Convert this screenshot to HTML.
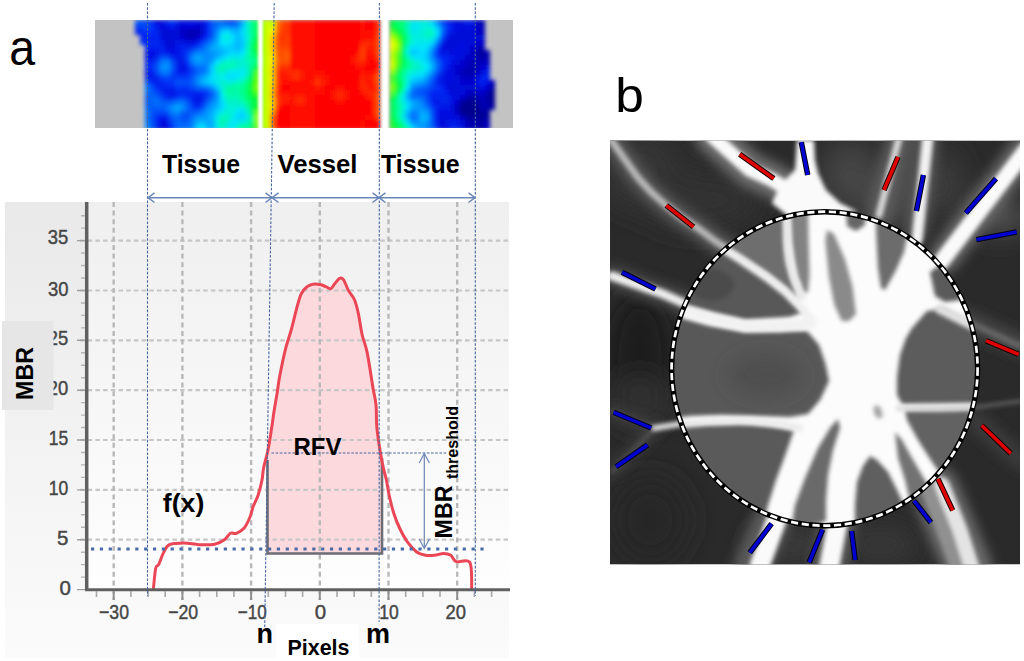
<!DOCTYPE html>
<html><head><meta charset="utf-8">
<style>
html,body{margin:0;padding:0;background:#fff;}
body{width:1024px;height:661px;overflow:hidden;}
svg{display:block;font-family:"Liberation Sans",sans-serif;}
</style></head>
<body>
<svg width="1024" height="661" viewBox="0 0 1024 661">
<defs>
  <filter id="hb" x="-10%" y="-10%" width="120%" height="120%"><feGaussianBlur stdDeviation="2"/></filter>
  <filter id="wb" x="-50%" y="-10%" width="200%" height="120%"><feGaussianBlur stdDeviation="0.9"/></filter>
  
  <linearGradient id="panelbg" x1="0" y1="0" x2="0" y2="1">
    <stop offset="0" stop-color="#e9e9e9"/><stop offset="1" stop-color="#fbfbfb"/>
  </linearGradient>
  <linearGradient id="plotbg" x1="0" y1="0" x2="0" y2="1">
    <stop offset="0" stop-color="#efefef"/><stop offset="1" stop-color="#fefefe"/>
  </linearGradient>

  <clipPath id="stripclip"><rect x="95" y="20" width="418" height="108"/></clipPath>
  <clipPath id="fillclip"><rect x="266.5" y="200" width="116.5" height="354"/></clipPath>
  <filter id="haze" x="-50%" y="-50%" width="200%" height="200%"><feGaussianBlur stdDeviation="14"/></filter>
  <filter id="vb" x="-10%" y="-10%" width="120%" height="120%"><feGaussianBlur stdDeviation="2"/></filter>
  <filter id="haze2" x="-50%" y="-50%" width="200%" height="200%"><feGaussianBlur stdDeviation="9"/></filter>
  <filter id="glow" x="-50%" y="-50%" width="200%" height="200%"><feGaussianBlur stdDeviation="6"/></filter>
  <filter id="rb" x="-10%" y="-10%" width="120%" height="120%"><feGaussianBlur stdDeviation="2.2"/></filter>
  
  <clipPath id="discclip"><ellipse cx="824.6" cy="368.7" rx="153" ry="157"/></clipPath>
  <clipPath id="bclip"><rect x="610" y="140.5" width="410" height="424"/></clipPath>
</defs>

<!-- ===== label a ===== -->
<text transform="translate(9.2,64.8) scale(0.94,1)" font-size="49.5" fill="#000">a</text>

<!-- ===== heat strip ===== -->
<g clip-path="url(#stripclip)">
  <rect x="95" y="20" width="418" height="108" fill="#c3c3c3"/>
  <g filter="url(#hb)">
<path fill="#0050f8" d="M135 20h5v5h-5zM140 20h5v5h-5zM210 30h5v5h-5zM160 55h5v5h-5zM170 60h5v5h-5zM175 80h5v5h-5zM180 80h5v5h-5zM185 80h5v5h-5zM420 90h5v5h-5zM425 100h5v5h-5zM150 110h5v5h-5zM150 115h5v5h-5zM185 115h5v5h-5zM430 115h5v5h-5zM150 120h5v5h-5zM430 120h5v5h-5z"/>
<path fill="#0040f8" d="M145 20h5v5h-5zM230 20h5v5h-5zM140 25h5v5h-5zM440 35h5v5h-5zM195 45h5v5h-5zM435 45h5v5h-5zM185 55h5v5h-5zM435 55h5v5h-5zM190 70h5v5h-5zM160 75h5v5h-5zM430 85h5v5h-5zM155 90h5v5h-5zM425 90h5v5h-5zM160 95h5v5h-5zM180 95h5v5h-5zM205 95h5v5h-5zM425 95h5v5h-5zM190 105h5v5h-5zM160 110h5v5h-5z"/>
<path fill="#0020f0" d="M150 20h5v5h-5zM165 20h5v5h-5zM205 25h5v5h-5zM135 30h5v5h-5zM205 30h5v5h-5zM140 35h5v5h-5zM145 35h5v5h-5zM150 35h5v5h-5zM155 35h5v5h-5zM150 45h5v5h-5zM155 45h5v5h-5zM180 45h5v5h-5zM160 50h5v5h-5zM180 50h5v5h-5zM440 55h5v5h-5zM445 55h5v5h-5zM445 60h5v5h-5zM175 65h5v5h-5zM150 70h5v5h-5zM175 70h5v5h-5zM185 70h5v5h-5zM480 75h5v5h-5zM485 75h5v5h-5zM480 80h5v5h-5zM160 85h5v5h-5zM165 85h5v5h-5zM440 85h5v5h-5zM175 90h5v5h-5zM170 95h5v5h-5zM190 95h5v5h-5zM430 95h5v5h-5zM440 95h5v5h-5zM430 100h5v5h-5zM155 120h5v5h-5zM435 125h5v5h-5zM450 125h5v5h-5z"/>
<path fill="#0010e0" d="M155 20h5v5h-5zM180 20h5v5h-5zM195 20h5v5h-5zM200 20h5v5h-5zM460 20h5v5h-5zM165 25h5v5h-5zM455 25h5v5h-5zM465 25h5v5h-5zM160 35h5v5h-5zM200 35h5v5h-5zM460 40h5v5h-5zM440 45h5v5h-5zM455 45h5v5h-5zM460 45h5v5h-5zM150 50h5v5h-5zM170 50h5v5h-5zM450 50h5v5h-5zM455 50h5v5h-5zM460 50h5v5h-5zM150 55h5v5h-5zM455 55h5v5h-5zM450 60h5v5h-5zM180 65h5v5h-5zM445 70h5v5h-5zM480 70h5v5h-5zM445 75h5v5h-5zM450 75h5v5h-5zM475 80h5v5h-5zM485 80h5v5h-5zM445 85h5v5h-5zM480 85h5v5h-5zM450 95h5v5h-5zM450 100h5v5h-5zM440 110h5v5h-5zM445 110h5v5h-5zM445 115h5v5h-5zM450 115h5v5h-5zM165 125h5v5h-5zM445 125h5v5h-5z"/>
<path fill="#0010d8" d="M160 20h5v5h-5zM455 20h5v5h-5zM160 25h5v5h-5zM175 25h5v5h-5zM460 25h5v5h-5zM470 25h5v5h-5zM160 30h5v5h-5zM455 30h5v5h-5zM450 35h5v5h-5zM470 35h5v5h-5zM165 40h5v5h-5zM170 40h5v5h-5zM455 40h5v5h-5zM465 40h5v5h-5zM165 45h5v5h-5zM170 45h5v5h-5zM445 45h5v5h-5zM450 45h5v5h-5zM465 45h5v5h-5zM445 80h5v5h-5zM475 85h5v5h-5zM455 90h5v5h-5zM460 90h5v5h-5zM450 105h5v5h-5zM440 115h5v5h-5zM160 120h5v5h-5zM440 120h5v5h-5z"/>
<path fill="#0038f8" d="M170 20h5v5h-5zM200 40h5v5h-5zM185 50h5v5h-5zM170 75h5v5h-5zM175 75h5v5h-5zM180 75h5v5h-5zM185 75h5v5h-5zM170 80h5v5h-5zM175 85h5v5h-5zM180 85h5v5h-5zM185 85h5v5h-5zM205 90h5v5h-5zM430 105h5v5h-5z"/>
<path fill="#0020e8" d="M175 20h5v5h-5zM465 20h5v5h-5zM155 30h5v5h-5zM440 40h5v5h-5zM160 45h5v5h-5zM185 45h5v5h-5zM180 55h5v5h-5zM175 60h5v5h-5zM185 65h5v5h-5zM440 70h5v5h-5zM485 70h5v5h-5zM145 75h5v5h-5zM155 80h5v5h-5zM200 95h5v5h-5zM435 95h5v5h-5zM445 95h5v5h-5zM440 100h5v5h-5zM445 100h5v5h-5zM435 105h5v5h-5zM450 120h5v5h-5zM155 125h5v5h-5zM455 125h5v5h-5z"/>
<path fill="#0018e8" d="M185 20h5v5h-5zM190 20h5v5h-5zM155 25h5v5h-5zM170 25h5v5h-5zM450 25h5v5h-5zM160 40h5v5h-5zM195 40h5v5h-5zM175 45h5v5h-5zM145 50h5v5h-5zM155 50h5v5h-5zM165 50h5v5h-5zM175 50h5v5h-5zM145 55h5v5h-5zM175 55h5v5h-5zM450 55h5v5h-5zM445 65h5v5h-5zM145 70h5v5h-5zM180 70h5v5h-5zM150 75h5v5h-5zM165 90h5v5h-5zM445 90h5v5h-5zM195 95h5v5h-5zM435 100h5v5h-5zM440 105h5v5h-5zM445 105h5v5h-5zM435 110h5v5h-5zM160 115h5v5h-5zM435 115h5v5h-5zM165 120h5v5h-5zM435 120h5v5h-5zM455 120h5v5h-5z"/>
<path fill="#0028f8" d="M205 20h5v5h-5zM150 30h5v5h-5zM145 45h5v5h-5zM435 50h5v5h-5zM145 60h5v5h-5zM145 65h5v5h-5zM155 85h5v5h-5zM435 90h5v5h-5zM195 105h5v5h-5zM155 115h5v5h-5z"/>
<path fill="#0058f8" d="M210 20h5v5h-5zM210 25h5v5h-5zM155 65h5v5h-5zM170 65h5v5h-5zM190 75h5v5h-5zM425 85h5v5h-5zM150 90h5v5h-5zM415 90h5v5h-5zM145 95h5v5h-5zM145 100h5v5h-5zM165 100h5v5h-5zM185 100h5v5h-5zM150 105h5v5h-5zM165 110h5v5h-5zM185 110h5v5h-5zM190 110h5v5h-5zM170 115h5v5h-5zM150 125h5v5h-5z"/>
<path fill="#0068f8" d="M215 20h5v5h-5zM440 25h5v5h-5zM435 60h5v5h-5zM410 90h5v5h-5zM150 95h5v5h-5zM210 95h5v5h-5zM420 95h5v5h-5zM150 100h5v5h-5zM180 110h5v5h-5zM175 115h5v5h-5z"/>
<path fill="#0060f8" d="M220 20h5v5h-5zM235 20h5v5h-5zM210 35h5v5h-5zM205 40h5v5h-5zM200 45h5v5h-5zM190 50h5v5h-5zM195 70h5v5h-5zM430 75h5v5h-5zM190 80h5v5h-5zM195 85h5v5h-5zM210 90h5v5h-5zM155 95h5v5h-5zM160 100h5v5h-5zM170 100h5v5h-5zM205 100h5v5h-5zM155 105h5v5h-5zM160 105h5v5h-5zM195 110h5v5h-5zM180 120h5v5h-5zM185 120h5v5h-5zM430 125h5v5h-5z"/>
<path fill="#0048f8" d="M225 20h5v5h-5zM440 20h5v5h-5zM145 25h5v5h-5zM165 55h5v5h-5zM155 60h5v5h-5zM190 65h5v5h-5zM155 70h5v5h-5zM170 70h5v5h-5zM435 70h5v5h-5zM165 75h5v5h-5zM145 80h5v5h-5zM430 80h5v5h-5zM150 85h5v5h-5zM190 85h5v5h-5zM200 105h5v5h-5zM155 110h5v5h-5zM430 110h5v5h-5zM180 115h5v5h-5zM170 120h5v5h-5z"/>
<path fill="#00a8ff" d="M240 20h5v5h-5zM210 45h5v5h-5zM195 55h5v5h-5zM415 80h5v5h-5zM405 95h5v5h-5zM215 100h5v5h-5zM410 100h5v5h-5zM175 105h5v5h-5zM410 105h5v5h-5zM420 110h5v5h-5zM405 115h5v5h-5zM425 115h5v5h-5zM205 120h5v5h-5zM420 120h5v5h-5zM415 125h5v5h-5z"/>
<path fill="#00f0d8" d="M245 20h5v5h-5zM425 25h5v5h-5zM420 30h5v5h-5zM225 35h5v5h-5zM245 35h5v5h-5zM410 35h5v5h-5zM420 35h5v5h-5zM430 35h5v5h-5zM405 50h5v5h-5zM415 60h5v5h-5zM215 70h5v5h-5zM405 75h5v5h-5zM225 80h5v5h-5zM405 80h5v5h-5zM400 115h5v5h-5zM240 120h5v5h-5z"/>
<path fill="#00ff80" d="M250 20h5v5h-5zM250 25h5v5h-5zM400 70h5v5h-5z"/>
<path fill="#00ff70" d="M255 20h5v5h-5zM395 20h5v5h-5zM400 25h5v5h-5zM250 40h5v5h-5zM250 50h5v5h-5zM255 55h5v5h-5zM245 95h5v5h-5zM395 120h5v5h-5z"/>
<path fill="#98ff00" d="M260 20h5v5h-5zM260 25h5v5h-5zM260 30h5v5h-5zM260 35h5v5h-5zM260 40h5v5h-5zM260 45h5v5h-5zM395 45h5v5h-5zM260 50h5v5h-5zM260 55h5v5h-5zM260 60h5v5h-5zM260 65h5v5h-5zM260 70h5v5h-5zM260 75h5v5h-5zM260 80h5v5h-5zM260 85h5v5h-5zM260 90h5v5h-5zM260 95h5v5h-5zM260 100h5v5h-5zM260 105h5v5h-5zM260 110h5v5h-5zM255 115h5v5h-5zM260 115h5v5h-5zM260 120h5v5h-5zM260 125h5v5h-5z"/>
<path fill="#d0ff00" d="M265 20h5v5h-5zM265 25h5v5h-5zM265 30h5v5h-5zM265 35h5v5h-5zM265 40h5v5h-5zM265 45h5v5h-5zM265 50h5v5h-5zM265 55h5v5h-5zM265 60h5v5h-5zM390 60h5v5h-5zM265 65h5v5h-5zM265 70h5v5h-5zM265 75h5v5h-5zM265 80h5v5h-5zM265 85h5v5h-5zM265 90h5v5h-5zM265 95h5v5h-5zM265 100h5v5h-5zM265 105h5v5h-5zM265 110h5v5h-5zM265 115h5v5h-5zM265 120h5v5h-5zM265 125h5v5h-5z"/>
<path fill="#b8ff00" d="M270 20h5v5h-5z"/>
<path fill="#ff7800" d="M275 20h5v5h-5z"/>
<path fill="#ff4800" d="M280 20h5v5h-5zM275 35h5v5h-5zM275 40h5v5h-5zM285 45h5v5h-5zM280 60h5v5h-5zM375 80h5v5h-5zM375 100h5v5h-5zM375 105h5v5h-5z"/>
<path fill="#ff4000" d="M285 20h5v5h-5zM280 25h5v5h-5zM285 35h5v5h-5zM285 40h5v5h-5zM375 40h5v5h-5zM280 45h5v5h-5zM375 45h5v5h-5zM360 50h5v5h-5zM375 50h5v5h-5zM360 55h5v5h-5zM375 90h5v5h-5zM275 100h5v5h-5z"/>
<path fill="#ff0800" d="M290 20h5v5h-5zM295 20h5v5h-5zM300 20h5v5h-5zM305 20h5v5h-5zM310 20h5v5h-5zM360 20h5v5h-5zM290 25h5v5h-5zM295 25h5v5h-5zM300 25h5v5h-5zM305 25h5v5h-5zM310 25h5v5h-5zM360 25h5v5h-5zM290 30h5v5h-5zM295 30h5v5h-5zM300 30h5v5h-5zM305 30h5v5h-5zM310 30h5v5h-5zM360 30h5v5h-5zM365 30h5v5h-5zM290 35h5v5h-5zM295 35h5v5h-5zM300 35h5v5h-5zM305 35h5v5h-5zM310 35h5v5h-5zM290 40h5v5h-5zM295 40h5v5h-5zM300 40h5v5h-5zM305 40h5v5h-5zM310 40h5v5h-5zM290 45h5v5h-5zM295 45h5v5h-5zM300 45h5v5h-5zM305 45h5v5h-5zM310 45h5v5h-5zM290 50h5v5h-5zM295 50h5v5h-5zM300 50h5v5h-5zM305 50h5v5h-5zM310 50h5v5h-5zM355 50h5v5h-5zM370 50h5v5h-5zM290 55h5v5h-5zM295 55h5v5h-5zM300 55h5v5h-5zM305 55h5v5h-5zM310 55h5v5h-5zM350 55h5v5h-5zM365 55h5v5h-5zM290 60h5v5h-5zM295 60h5v5h-5zM300 60h5v5h-5zM305 60h5v5h-5zM310 60h5v5h-5zM350 60h5v5h-5zM365 60h5v5h-5zM300 65h5v5h-5zM305 65h5v5h-5zM310 65h5v5h-5zM355 65h5v5h-5zM305 70h5v5h-5zM310 70h5v5h-5zM315 70h5v5h-5zM320 70h5v5h-5zM365 70h5v5h-5zM305 75h5v5h-5zM325 75h5v5h-5zM280 80h5v5h-5zM285 80h5v5h-5zM300 80h5v5h-5zM305 80h5v5h-5zM325 80h5v5h-5zM290 85h5v5h-5zM295 85h5v5h-5zM300 85h5v5h-5zM305 85h5v5h-5zM335 85h5v5h-5zM340 85h5v5h-5zM280 90h5v5h-5zM290 90h5v5h-5zM305 90h5v5h-5zM310 90h5v5h-5zM315 90h5v5h-5zM320 90h5v5h-5zM330 90h5v5h-5zM345 90h5v5h-5zM310 95h5v5h-5zM330 95h5v5h-5zM345 95h5v5h-5zM310 100h5v5h-5zM335 100h5v5h-5zM340 100h5v5h-5zM290 105h5v5h-5zM305 105h5v5h-5zM310 105h5v5h-5zM370 105h5v5h-5zM290 110h5v5h-5zM295 110h5v5h-5zM300 110h5v5h-5zM305 110h5v5h-5zM310 110h5v5h-5zM290 115h5v5h-5zM295 115h5v5h-5zM300 115h5v5h-5zM305 115h5v5h-5zM310 115h5v5h-5zM365 115h5v5h-5zM370 115h5v5h-5zM290 120h5v5h-5zM295 120h5v5h-5zM300 120h5v5h-5zM305 120h5v5h-5zM310 120h5v5h-5zM290 125h5v5h-5zM295 125h5v5h-5zM300 125h5v5h-5zM305 125h5v5h-5zM310 125h5v5h-5z"/>
<path fill="#ff0000" d="M315 20h5v5h-5zM320 20h5v5h-5zM325 20h5v5h-5zM330 20h5v5h-5zM335 20h5v5h-5zM340 20h5v5h-5zM345 20h5v5h-5zM350 20h5v5h-5zM355 20h5v5h-5zM365 20h5v5h-5zM370 20h5v5h-5zM315 25h5v5h-5zM320 25h5v5h-5zM325 25h5v5h-5zM330 25h5v5h-5zM335 25h5v5h-5zM340 25h5v5h-5zM345 25h5v5h-5zM350 25h5v5h-5zM355 25h5v5h-5zM365 25h5v5h-5zM370 25h5v5h-5zM315 30h5v5h-5zM320 30h5v5h-5zM325 30h5v5h-5zM330 30h5v5h-5zM335 30h5v5h-5zM340 30h5v5h-5zM345 30h5v5h-5zM350 30h5v5h-5zM355 30h5v5h-5zM370 30h5v5h-5zM315 35h5v5h-5zM320 35h5v5h-5zM325 35h5v5h-5zM330 35h5v5h-5zM335 35h5v5h-5zM340 35h5v5h-5zM345 35h5v5h-5zM350 35h5v5h-5zM355 35h5v5h-5zM315 40h5v5h-5zM320 40h5v5h-5zM325 40h5v5h-5zM330 40h5v5h-5zM335 40h5v5h-5zM340 40h5v5h-5zM345 40h5v5h-5zM350 40h5v5h-5zM355 40h5v5h-5zM315 45h5v5h-5zM320 45h5v5h-5zM325 45h5v5h-5zM330 45h5v5h-5zM335 45h5v5h-5zM340 45h5v5h-5zM345 45h5v5h-5zM350 45h5v5h-5zM355 45h5v5h-5zM315 50h5v5h-5zM320 50h5v5h-5zM325 50h5v5h-5zM330 50h5v5h-5zM335 50h5v5h-5zM340 50h5v5h-5zM345 50h5v5h-5zM350 50h5v5h-5zM315 55h5v5h-5zM320 55h5v5h-5zM325 55h5v5h-5zM330 55h5v5h-5zM335 55h5v5h-5zM340 55h5v5h-5zM345 55h5v5h-5zM370 55h5v5h-5zM315 60h5v5h-5zM320 60h5v5h-5zM325 60h5v5h-5zM330 60h5v5h-5zM335 60h5v5h-5zM340 60h5v5h-5zM345 60h5v5h-5zM370 60h5v5h-5zM315 65h5v5h-5zM320 65h5v5h-5zM325 65h5v5h-5zM330 65h5v5h-5zM335 65h5v5h-5zM340 65h5v5h-5zM345 65h5v5h-5zM350 65h5v5h-5zM365 65h5v5h-5zM370 65h5v5h-5zM325 70h5v5h-5zM330 70h5v5h-5zM335 70h5v5h-5zM340 70h5v5h-5zM345 70h5v5h-5zM350 70h5v5h-5zM355 70h5v5h-5zM370 70h5v5h-5zM330 75h5v5h-5zM335 75h5v5h-5zM340 75h5v5h-5zM345 75h5v5h-5zM350 75h5v5h-5zM355 75h5v5h-5zM330 80h5v5h-5zM335 80h5v5h-5zM340 80h5v5h-5zM345 80h5v5h-5zM350 80h5v5h-5zM355 80h5v5h-5zM280 85h5v5h-5zM285 85h5v5h-5zM325 85h5v5h-5zM330 85h5v5h-5zM345 85h5v5h-5zM350 85h5v5h-5zM355 85h5v5h-5zM325 90h5v5h-5zM350 90h5v5h-5zM355 90h5v5h-5zM315 95h5v5h-5zM320 95h5v5h-5zM325 95h5v5h-5zM350 95h5v5h-5zM355 95h5v5h-5zM360 95h5v5h-5zM315 100h5v5h-5zM320 100h5v5h-5zM325 100h5v5h-5zM330 100h5v5h-5zM345 100h5v5h-5zM350 100h5v5h-5zM355 100h5v5h-5zM360 100h5v5h-5zM365 100h5v5h-5zM280 105h5v5h-5zM285 105h5v5h-5zM315 105h5v5h-5zM320 105h5v5h-5zM325 105h5v5h-5zM330 105h5v5h-5zM335 105h5v5h-5zM340 105h5v5h-5zM345 105h5v5h-5zM350 105h5v5h-5zM355 105h5v5h-5zM360 105h5v5h-5zM365 105h5v5h-5zM275 110h5v5h-5zM280 110h5v5h-5zM285 110h5v5h-5zM315 110h5v5h-5zM320 110h5v5h-5zM325 110h5v5h-5zM330 110h5v5h-5zM335 110h5v5h-5zM340 110h5v5h-5zM345 110h5v5h-5zM350 110h5v5h-5zM355 110h5v5h-5zM360 110h5v5h-5zM365 110h5v5h-5zM275 115h5v5h-5zM280 115h5v5h-5zM285 115h5v5h-5zM315 115h5v5h-5zM320 115h5v5h-5zM325 115h5v5h-5zM330 115h5v5h-5zM335 115h5v5h-5zM340 115h5v5h-5zM345 115h5v5h-5zM350 115h5v5h-5zM355 115h5v5h-5zM360 115h5v5h-5zM275 120h5v5h-5zM280 120h5v5h-5zM285 120h5v5h-5zM315 120h5v5h-5zM320 120h5v5h-5zM325 120h5v5h-5zM330 120h5v5h-5zM335 120h5v5h-5zM340 120h5v5h-5zM345 120h5v5h-5zM350 120h5v5h-5zM355 120h5v5h-5zM365 120h5v5h-5zM370 120h5v5h-5zM375 120h5v5h-5zM275 125h5v5h-5zM280 125h5v5h-5zM285 125h5v5h-5zM315 125h5v5h-5zM320 125h5v5h-5zM325 125h5v5h-5zM330 125h5v5h-5zM335 125h5v5h-5zM340 125h5v5h-5zM345 125h5v5h-5zM350 125h5v5h-5zM355 125h5v5h-5zM365 125h5v5h-5zM370 125h5v5h-5zM375 125h5v5h-5z"/>
<path fill="#ff2000" d="M375 20h5v5h-5zM360 40h5v5h-5zM370 40h5v5h-5zM355 55h5v5h-5zM355 60h5v5h-5zM285 70h5v5h-5zM315 75h5v5h-5zM360 75h5v5h-5zM370 75h5v5h-5zM320 80h5v5h-5zM365 85h5v5h-5zM335 90h5v5h-5zM340 90h5v5h-5zM370 90h5v5h-5zM280 95h5v5h-5zM285 95h5v5h-5zM335 95h5v5h-5zM340 95h5v5h-5zM370 95h5v5h-5z"/>
<path fill="#00f840" d="M390 20h5v5h-5zM400 60h5v5h-5zM395 70h5v5h-5zM395 80h5v5h-5zM250 95h5v5h-5z"/>
<path fill="#00ff78" d="M400 20h5v5h-5zM255 60h5v5h-5zM250 65h5v5h-5zM245 80h5v5h-5zM400 80h5v5h-5zM400 85h5v5h-5z"/>
<path fill="#00f8b0" d="M405 20h5v5h-5zM405 55h5v5h-5zM240 80h5v5h-5zM225 95h5v5h-5zM220 115h5v5h-5z"/>
<path fill="#00e8e8" d="M410 20h5v5h-5zM425 20h5v5h-5zM410 30h5v5h-5zM415 30h5v5h-5zM230 55h5v5h-5zM235 55h5v5h-5zM225 70h5v5h-5zM415 70h5v5h-5zM215 75h5v5h-5zM215 80h5v5h-5zM215 115h5v5h-5zM230 115h5v5h-5zM245 115h5v5h-5zM225 125h5v5h-5z"/>
<path fill="#00e8f0" d="M415 20h5v5h-5zM410 25h5v5h-5zM220 35h5v5h-5zM225 40h5v5h-5zM415 40h5v5h-5zM420 40h5v5h-5zM425 40h5v5h-5zM410 55h5v5h-5zM420 60h5v5h-5zM220 95h5v5h-5zM235 120h5v5h-5zM215 125h5v5h-5z"/>
<path fill="#00f0e0" d="M420 20h5v5h-5zM420 25h5v5h-5zM415 35h5v5h-5zM410 40h5v5h-5zM240 55h5v5h-5zM240 65h5v5h-5zM420 65h5v5h-5zM410 70h5v5h-5zM220 90h5v5h-5zM225 105h5v5h-5zM235 105h5v5h-5zM240 105h5v5h-5zM220 110h5v5h-5zM230 110h5v5h-5zM215 120h5v5h-5z"/>
<path fill="#00d0ff" d="M430 20h5v5h-5zM240 35h5v5h-5zM225 45h5v5h-5zM235 50h5v5h-5zM415 50h5v5h-5zM220 55h5v5h-5zM210 65h5v5h-5zM210 70h5v5h-5zM415 75h5v5h-5zM215 85h5v5h-5zM240 115h5v5h-5zM195 125h5v5h-5zM410 125h5v5h-5z"/>
<path fill="#0088ff" d="M435 20h5v5h-5zM230 25h5v5h-5zM210 40h5v5h-5zM205 45h5v5h-5zM205 50h5v5h-5zM190 55h5v5h-5zM205 55h5v5h-5zM165 60h5v5h-5zM205 60h5v5h-5zM205 65h5v5h-5zM430 70h5v5h-5zM195 80h5v5h-5zM410 85h5v5h-5zM210 100h5v5h-5zM175 110h5v5h-5zM415 110h5v5h-5zM145 125h5v5h-5zM190 125h5v5h-5zM425 125h5v5h-5z"/>
<path fill="#0028f0" d="M445 20h5v5h-5zM140 30h5v5h-5zM445 30h5v5h-5zM145 40h5v5h-5zM150 40h5v5h-5zM155 40h5v5h-5zM190 45h5v5h-5zM155 55h5v5h-5zM170 55h5v5h-5zM150 60h5v5h-5zM155 75h5v5h-5zM435 75h5v5h-5zM150 80h5v5h-5zM160 80h5v5h-5zM435 80h5v5h-5zM170 85h5v5h-5zM160 90h5v5h-5zM180 90h5v5h-5zM185 90h5v5h-5zM190 90h5v5h-5zM195 90h5v5h-5zM200 90h5v5h-5zM430 90h5v5h-5zM440 90h5v5h-5zM165 95h5v5h-5zM190 100h5v5h-5zM200 100h5v5h-5zM165 115h5v5h-5z"/>
<path fill="#0018e0" d="M450 20h5v5h-5zM470 20h5v5h-5zM450 30h5v5h-5zM445 35h5v5h-5zM175 40h5v5h-5zM180 40h5v5h-5zM440 50h5v5h-5zM445 50h5v5h-5zM180 60h5v5h-5zM440 75h5v5h-5zM440 80h5v5h-5zM170 90h5v5h-5zM195 100h5v5h-5zM445 120h5v5h-5z"/>
<path fill="#0000c8" d="M475 20h5v5h-5zM195 25h5v5h-5zM475 25h5v5h-5zM180 30h5v5h-5zM475 30h5v5h-5zM195 35h5v5h-5zM465 55h5v5h-5zM460 65h5v5h-5zM460 75h5v5h-5zM475 90h5v5h-5zM455 100h5v5h-5zM485 125h5v5h-5z"/>
<path fill="#0000b0" d="M480 20h5v5h-5zM190 30h5v5h-5zM485 50h5v5h-5zM475 55h5v5h-5zM485 55h5v5h-5zM470 65h5v5h-5zM465 70h5v5h-5zM470 70h5v5h-5zM485 90h5v5h-5zM465 95h5v5h-5zM475 95h5v5h-5zM485 100h5v5h-5zM480 105h5v5h-5zM485 105h5v5h-5zM470 120h5v5h-5zM470 125h5v5h-5z"/>
<path fill="#0030f8" d="M135 25h5v5h-5zM150 25h5v5h-5zM445 25h5v5h-5zM145 30h5v5h-5zM205 35h5v5h-5zM140 40h5v5h-5zM185 60h5v5h-5zM440 60h5v5h-5zM150 65h5v5h-5zM440 65h5v5h-5zM165 80h5v5h-5zM435 85h5v5h-5zM175 95h5v5h-5zM185 95h5v5h-5zM170 125h5v5h-5z"/>
<path fill="#0000d0" d="M180 25h5v5h-5zM185 25h5v5h-5zM190 25h5v5h-5zM180 35h5v5h-5zM475 40h5v5h-5zM480 40h5v5h-5zM470 45h5v5h-5zM460 60h5v5h-5zM455 65h5v5h-5zM480 65h5v5h-5zM455 70h5v5h-5zM460 80h5v5h-5zM465 80h5v5h-5zM470 80h5v5h-5zM485 85h5v5h-5zM465 90h5v5h-5zM480 90h5v5h-5zM460 95h5v5h-5z"/>
<path fill="#0008d0" d="M200 25h5v5h-5zM165 30h5v5h-5zM175 30h5v5h-5zM200 30h5v5h-5zM165 35h5v5h-5zM480 35h5v5h-5zM455 75h5v5h-5zM450 85h5v5h-5zM465 85h5v5h-5zM470 85h5v5h-5z"/>
<path fill="#0078ff" d="M215 25h5v5h-5zM435 40h5v5h-5zM430 50h5v5h-5zM190 60h5v5h-5zM160 70h5v5h-5zM165 70h5v5h-5zM425 80h5v5h-5zM145 85h5v5h-5zM205 85h5v5h-5zM175 100h5v5h-5zM180 100h5v5h-5zM145 110h5v5h-5zM200 110h5v5h-5zM410 110h5v5h-5zM145 120h5v5h-5z"/>
<path fill="#0098ff" d="M220 25h5v5h-5zM225 25h5v5h-5zM210 50h5v5h-5zM200 55h5v5h-5zM195 60h5v5h-5zM425 75h5v5h-5zM420 80h5v5h-5zM210 85h5v5h-5zM215 90h5v5h-5zM215 95h5v5h-5zM415 100h5v5h-5zM415 105h5v5h-5zM205 110h5v5h-5zM425 110h5v5h-5zM200 115h5v5h-5zM410 120h5v5h-5zM420 125h5v5h-5z"/>
<path fill="#0090ff" d="M235 25h5v5h-5zM215 30h5v5h-5zM210 55h5v5h-5zM200 60h5v5h-5zM160 65h5v5h-5zM165 65h5v5h-5zM205 70h5v5h-5zM170 105h5v5h-5zM180 105h5v5h-5zM420 105h5v5h-5zM195 115h5v5h-5zM415 120h5v5h-5zM425 120h5v5h-5z"/>
<path fill="#00c8ff" d="M240 25h5v5h-5zM230 30h5v5h-5zM240 40h5v5h-5zM220 45h5v5h-5zM230 45h5v5h-5zM240 45h5v5h-5zM225 50h5v5h-5zM410 50h5v5h-5zM425 50h5v5h-5zM425 70h5v5h-5zM420 75h5v5h-5zM205 80h5v5h-5z"/>
<path fill="#00f0d0" d="M245 25h5v5h-5zM245 30h5v5h-5zM425 35h5v5h-5zM245 40h5v5h-5zM220 60h5v5h-5zM240 60h5v5h-5zM235 65h5v5h-5zM220 70h5v5h-5zM220 80h5v5h-5zM230 80h5v5h-5zM220 85h5v5h-5zM225 100h5v5h-5zM400 100h5v5h-5zM230 105h5v5h-5zM225 110h5v5h-5zM245 110h5v5h-5zM400 110h5v5h-5zM225 120h5v5h-5z"/>
<path fill="#00ff68" d="M255 25h5v5h-5zM245 85h5v5h-5zM250 115h5v5h-5zM250 120h5v5h-5zM400 125h5v5h-5z"/>
<path fill="#d8ff00" d="M270 25h5v5h-5z"/>
<path fill="#ff7000" d="M275 25h5v5h-5zM270 125h5v5h-5z"/>
<path fill="#ff3800" d="M285 25h5v5h-5zM280 30h5v5h-5zM285 30h5v5h-5zM375 35h5v5h-5zM280 40h5v5h-5zM360 45h5v5h-5zM275 70h5v5h-5zM275 75h5v5h-5zM275 80h5v5h-5zM315 80h5v5h-5zM375 85h5v5h-5zM275 95h5v5h-5zM375 115h5v5h-5z"/>
<path fill="#ff2800" d="M375 25h5v5h-5zM365 40h5v5h-5zM365 45h5v5h-5zM360 60h5v5h-5zM280 65h5v5h-5zM290 70h5v5h-5zM290 75h5v5h-5zM360 80h5v5h-5zM360 85h5v5h-5zM275 90h5v5h-5zM365 90h5v5h-5zM295 95h5v5h-5zM300 95h5v5h-5zM295 100h5v5h-5zM300 100h5v5h-5zM275 105h5v5h-5z"/>
<path fill="#00f830" d="M390 25h5v5h-5zM395 30h5v5h-5zM250 75h5v5h-5zM255 95h5v5h-5z"/>
<path fill="#00ff60" d="M395 25h5v5h-5zM255 30h5v5h-5zM250 45h5v5h-5zM245 90h5v5h-5z"/>
<path fill="#00f8b8" d="M405 25h5v5h-5zM245 55h5v5h-5zM230 60h5v5h-5zM245 60h5v5h-5zM410 60h5v5h-5zM225 65h5v5h-5zM410 65h5v5h-5zM400 90h5v5h-5zM230 95h5v5h-5zM235 95h5v5h-5zM240 100h5v5h-5zM405 125h5v5h-5z"/>
<path fill="#00e8f8" d="M415 25h5v5h-5zM225 30h5v5h-5zM420 45h5v5h-5zM225 55h5v5h-5zM215 60h5v5h-5zM230 70h5v5h-5zM235 70h5v5h-5zM240 70h5v5h-5zM420 70h5v5h-5zM235 75h5v5h-5zM405 85h5v5h-5zM230 120h5v5h-5z"/>
<path fill="#00f0e8" d="M430 25h5v5h-5zM220 75h5v5h-5zM240 75h5v5h-5zM400 95h5v5h-5z"/>
<path fill="#00c0ff" d="M435 25h5v5h-5zM235 35h5v5h-5zM425 55h5v5h-5zM205 75h5v5h-5zM200 120h5v5h-5z"/>
<path fill="#0000b8" d="M480 25h5v5h-5zM185 30h5v5h-5zM195 30h5v5h-5zM190 35h5v5h-5zM475 45h5v5h-5zM480 45h5v5h-5zM470 60h5v5h-5zM475 60h5v5h-5zM465 65h5v5h-5zM475 65h5v5h-5zM460 70h5v5h-5zM480 95h5v5h-5zM480 100h5v5h-5zM455 105h5v5h-5zM465 120h5v5h-5zM485 120h5v5h-5z"/>
<path fill="#0008d8" d="M170 30h5v5h-5zM460 30h5v5h-5zM465 30h5v5h-5zM470 30h5v5h-5zM170 35h5v5h-5zM175 35h5v5h-5zM455 35h5v5h-5zM460 35h5v5h-5zM465 35h5v5h-5zM475 35h5v5h-5zM185 40h5v5h-5zM190 40h5v5h-5zM445 40h5v5h-5zM450 40h5v5h-5zM470 40h5v5h-5zM465 50h5v5h-5zM460 55h5v5h-5zM455 60h5v5h-5zM450 65h5v5h-5zM485 65h5v5h-5zM450 70h5v5h-5zM475 75h5v5h-5zM450 80h5v5h-5zM455 80h5v5h-5zM455 85h5v5h-5zM460 85h5v5h-5zM450 90h5v5h-5zM455 95h5v5h-5zM450 110h5v5h-5zM455 115h5v5h-5zM460 120h5v5h-5zM160 125h5v5h-5zM440 125h5v5h-5zM460 125h5v5h-5z"/>
<path fill="#00d8ff" d="M220 30h5v5h-5zM240 30h5v5h-5zM230 40h5v5h-5zM430 40h5v5h-5zM425 45h5v5h-5zM230 50h5v5h-5zM425 60h5v5h-5zM210 80h5v5h-5zM405 100h5v5h-5zM220 105h5v5h-5zM215 110h5v5h-5zM240 110h5v5h-5zM235 115h5v5h-5z"/>
<path fill="#00b8ff" d="M235 30h5v5h-5zM435 35h5v5h-5zM235 40h5v5h-5zM215 45h5v5h-5zM235 45h5v5h-5zM410 80h5v5h-5zM405 90h5v5h-5zM215 105h5v5h-5zM405 110h5v5h-5zM210 115h5v5h-5zM420 115h5v5h-5zM205 125h5v5h-5z"/>
<path fill="#00ff88" d="M250 30h5v5h-5zM250 35h5v5h-5zM250 55h5v5h-5zM405 60h5v5h-5zM395 95h5v5h-5zM245 100h5v5h-5z"/>
<path fill="#ffe800" d="M270 30h5v5h-5z"/>
<path fill="#ff6000" d="M275 30h5v5h-5zM275 55h5v5h-5zM285 55h5v5h-5zM275 60h5v5h-5zM270 120h5v5h-5z"/>
<path fill="#ff3000" d="M375 30h5v5h-5zM280 35h5v5h-5zM375 55h5v5h-5zM285 65h5v5h-5zM295 70h5v5h-5zM375 70h5v5h-5zM295 75h5v5h-5zM275 85h5v5h-5z"/>
<path fill="#50ff10" d="M390 30h5v5h-5zM395 35h5v5h-5zM390 90h5v5h-5z"/>
<path fill="#00ff58" d="M400 30h5v5h-5zM400 65h5v5h-5zM395 75h5v5h-5z"/>
<path fill="#00f8a8" d="M405 30h5v5h-5zM220 65h5v5h-5zM245 75h5v5h-5zM225 85h5v5h-5zM230 90h5v5h-5zM235 90h5v5h-5zM245 105h5v5h-5zM220 120h5v5h-5zM400 120h5v5h-5z"/>
<path fill="#00f8c0" d="M425 30h5v5h-5zM430 30h5v5h-5zM405 45h5v5h-5zM245 50h5v5h-5zM225 60h5v5h-5zM230 65h5v5h-5zM405 70h5v5h-5zM235 80h5v5h-5zM400 105h5v5h-5zM225 115h5v5h-5zM220 125h5v5h-5zM235 125h5v5h-5z"/>
<path fill="#00e0ff" d="M435 30h5v5h-5zM230 35h5v5h-5zM410 45h5v5h-5zM415 45h5v5h-5zM240 50h5v5h-5zM420 50h5v5h-5zM415 55h5v5h-5zM420 55h5v5h-5zM210 75h5v5h-5zM225 75h5v5h-5zM230 75h5v5h-5zM410 75h5v5h-5zM220 100h5v5h-5zM405 105h5v5h-5zM235 110h5v5h-5zM405 120h5v5h-5z"/>
<path fill="#0068ff" d="M440 30h5v5h-5zM195 65h5v5h-5zM435 65h5v5h-5zM200 85h5v5h-5zM420 85h5v5h-5zM145 105h5v5h-5zM185 105h5v5h-5zM410 115h5v5h-5zM175 120h5v5h-5zM175 125h5v5h-5z"/>
<path fill="#0000c0" d="M480 30h5v5h-5zM185 35h5v5h-5zM470 50h5v5h-5zM470 55h5v5h-5zM465 60h5v5h-5zM480 60h5v5h-5zM485 60h5v5h-5zM475 70h5v5h-5zM465 75h5v5h-5zM470 75h5v5h-5zM490 80h5v5h-5zM470 90h5v5h-5zM455 110h5v5h-5zM460 115h5v5h-5zM465 125h5v5h-5z"/>
<path fill="#00a0ff" d="M215 35h5v5h-5zM430 45h5v5h-5zM215 50h5v5h-5zM430 60h5v5h-5zM200 75h5v5h-5zM210 105h5v5h-5zM205 115h5v5h-5z"/>
<path fill="#00f848" d="M255 35h5v5h-5zM400 55h5v5h-5zM255 100h5v5h-5zM390 100h5v5h-5zM250 105h5v5h-5z"/>
<path fill="#ffc800" d="M270 35h5v5h-5zM270 70h5v5h-5zM270 105h5v5h-5z"/>
<path fill="#ff1000" d="M360 35h5v5h-5zM365 35h5v5h-5zM370 35h5v5h-5zM290 65h5v5h-5zM295 65h5v5h-5zM360 65h5v5h-5zM375 65h5v5h-5zM280 75h5v5h-5zM310 75h5v5h-5zM290 80h5v5h-5zM295 80h5v5h-5zM310 85h5v5h-5zM320 85h5v5h-5zM370 85h5v5h-5zM285 90h5v5h-5zM295 90h5v5h-5zM300 90h5v5h-5zM290 95h5v5h-5zM305 95h5v5h-5zM290 100h5v5h-5zM305 100h5v5h-5zM370 100h5v5h-5zM295 105h5v5h-5zM300 105h5v5h-5zM370 110h5v5h-5zM360 120h5v5h-5zM360 125h5v5h-5z"/>
<path fill="#b0ff00" d="M390 35h5v5h-5zM390 55h5v5h-5z"/>
<path fill="#00f838" d="M400 35h5v5h-5zM400 45h5v5h-5zM255 50h5v5h-5zM255 65h5v5h-5zM390 115h5v5h-5z"/>
<path fill="#00ff90" d="M405 35h5v5h-5zM405 65h5v5h-5zM400 75h5v5h-5zM240 85h5v5h-5zM240 90h5v5h-5zM395 105h5v5h-5zM395 115h5v5h-5zM240 125h5v5h-5zM245 125h5v5h-5z"/>
<path fill="#00b0ff" d="M215 40h5v5h-5zM220 50h5v5h-5zM215 55h5v5h-5zM210 60h5v5h-5zM430 65h5v5h-5zM200 80h5v5h-5zM210 110h5v5h-5zM195 120h5v5h-5zM210 120h5v5h-5zM210 125h5v5h-5z"/>
<path fill="#00e8ff" d="M220 40h5v5h-5zM425 65h5v5h-5zM200 125h5v5h-5zM230 125h5v5h-5z"/>
<path fill="#00f828" d="M255 40h5v5h-5zM400 40h5v5h-5zM395 85h5v5h-5zM390 95h5v5h-5zM255 105h5v5h-5z"/>
<path fill="#ffc000" d="M270 40h5v5h-5zM270 45h5v5h-5zM270 85h5v5h-5z"/>
<path fill="#e8ff00" d="M390 40h5v5h-5zM390 45h5v5h-5z"/>
<path fill="#90ff00" d="M395 40h5v5h-5z"/>
<path fill="#00ff98" d="M405 40h5v5h-5zM250 60h5v5h-5zM240 95h5v5h-5zM395 110h5v5h-5z"/>
<path fill="#00f0c8" d="M245 45h5v5h-5zM235 60h5v5h-5zM215 65h5v5h-5zM245 65h5v5h-5zM415 65h5v5h-5zM245 70h5v5h-5zM230 100h5v5h-5zM235 100h5v5h-5zM245 120h5v5h-5z"/>
<path fill="#18f820" d="M255 45h5v5h-5z"/>
<path fill="#ff5000" d="M275 45h5v5h-5zM280 50h5v5h-5zM280 55h5v5h-5zM285 60h5v5h-5zM275 65h5v5h-5zM375 75h5v5h-5zM375 95h5v5h-5zM375 110h5v5h-5z"/>
<path fill="#ff1800" d="M370 45h5v5h-5zM365 50h5v5h-5zM375 60h5v5h-5zM280 70h5v5h-5zM300 70h5v5h-5zM360 70h5v5h-5zM285 75h5v5h-5zM300 75h5v5h-5zM320 75h5v5h-5zM365 75h5v5h-5zM310 80h5v5h-5zM365 80h5v5h-5zM370 80h5v5h-5zM315 85h5v5h-5zM360 90h5v5h-5zM365 95h5v5h-5zM280 100h5v5h-5zM285 100h5v5h-5z"/>
<path fill="#0080ff" d="M195 50h5v5h-5zM200 50h5v5h-5zM430 55h5v5h-5zM160 60h5v5h-5zM195 75h5v5h-5zM420 100h5v5h-5zM205 105h5v5h-5zM170 110h5v5h-5zM415 115h5v5h-5zM190 120h5v5h-5z"/>
<path fill="#ffd000" d="M270 50h5v5h-5zM270 65h5v5h-5zM270 75h5v5h-5zM270 80h5v5h-5zM270 100h5v5h-5z"/>
<path fill="#ff5800" d="M275 50h5v5h-5zM285 50h5v5h-5z"/>
<path fill="#c0ff00" d="M390 50h5v5h-5z"/>
<path fill="#68ff10" d="M395 50h5v5h-5zM255 75h5v5h-5z"/>
<path fill="#00f850" d="M400 50h5v5h-5zM250 70h5v5h-5zM395 90h5v5h-5zM250 100h5v5h-5zM390 105h5v5h-5zM250 110h5v5h-5zM390 110h5v5h-5zM250 125h5v5h-5zM395 125h5v5h-5z"/>
<path fill="#0000a8" d="M475 50h5v5h-5zM480 55h5v5h-5zM485 95h5v5h-5zM475 120h5v5h-5zM480 120h5v5h-5zM480 125h5v5h-5z"/>
<path fill="#0000a0" d="M480 50h5v5h-5zM490 85h5v5h-5zM470 95h5v5h-5zM475 100h5v5h-5zM490 105h5v5h-5zM480 110h5v5h-5zM465 115h5v5h-5zM475 115h5v5h-5zM485 115h5v5h-5zM475 125h5v5h-5z"/>
<path fill="#ffe000" d="M270 55h5v5h-5zM270 60h5v5h-5z"/>
<path fill="#48ff10" d="M395 55h5v5h-5z"/>
<path fill="#58ff10" d="M395 60h5v5h-5zM255 70h5v5h-5zM390 80h5v5h-5zM255 90h5v5h-5z"/>
<path fill="#0070ff" d="M200 65h5v5h-5zM200 70h5v5h-5zM415 85h5v5h-5zM145 90h5v5h-5zM410 95h5v5h-5zM415 95h5v5h-5zM155 100h5v5h-5zM165 105h5v5h-5zM425 105h5v5h-5zM145 115h5v5h-5zM190 115h5v5h-5zM180 125h5v5h-5zM185 125h5v5h-5z"/>
<path fill="#c8ff00" d="M390 65h5v5h-5z"/>
<path fill="#38f818" d="M395 65h5v5h-5zM390 75h5v5h-5z"/>
<path fill="#80ff08" d="M390 70h5v5h-5z"/>
<path fill="#10f820" d="M250 80h5v5h-5z"/>
<path fill="#70ff08" d="M255 80h5v5h-5zM255 110h5v5h-5zM255 125h5v5h-5z"/>
<path fill="#00f8a0" d="M230 85h5v5h-5z"/>
<path fill="#00ffa0" d="M235 85h5v5h-5zM225 90h5v5h-5zM395 100h5v5h-5z"/>
<path fill="#20f820" d="M250 85h5v5h-5zM390 125h5v5h-5z"/>
<path fill="#88ff08" d="M255 85h5v5h-5zM255 120h5v5h-5z"/>
<path fill="#78ff08" d="M390 85h5v5h-5z"/>
<path fill="#08f828" d="M250 90h5v5h-5z"/>
<path fill="#ffb000" d="M270 90h5v5h-5z"/>
<path fill="#000090" d="M490 90h5v5h-5zM490 95h5v5h-5zM465 100h5v5h-5zM470 100h5v5h-5zM490 100h5v5h-5zM460 105h5v5h-5zM465 105h5v5h-5zM470 105h5v5h-5zM475 105h5v5h-5zM460 110h5v5h-5zM465 110h5v5h-5zM470 110h5v5h-5zM475 110h5v5h-5z"/>
<path fill="#ffb800" d="M270 95h5v5h-5z"/>
<path fill="#000098" d="M460 100h5v5h-5zM485 110h5v5h-5zM470 115h5v5h-5zM480 115h5v5h-5z"/>
<path fill="#ff9800" d="M270 110h5v5h-5z"/>
<path fill="#ff6800" d="M270 115h5v5h-5z"/>
<path fill="#10f828" d="M390 120h5v5h-5z"/>
  </g>
  <g filter="url(#wb)" fill="#fff">
    <rect x="258.2" y="14" width="4.6" height="120"/>
    <rect x="381.5" y="14" width="7" height="120"/>
  </g>
</g>

<!-- ===== chart panel ===== -->
<rect x="5" y="202" width="504" height="456" fill="url(#panelbg)"/>
<rect x="87" y="202" width="422" height="388" fill="url(#plotbg)"/>
<rect x="276" y="624" width="83" height="37" fill="#fff"/>

<!-- pink fill -->
<path clip-path="url(#fillclip)" fill="#fbd9dd" d="M259,480 L263.6,468 L267.4,452.7 L269.7,440.6 L272,425.5 L274.2,410.3 L277.3,392 L279.7,376.2 L285.6,348.6 L291.5,329 L296.4,309.3 L301.3,293.6 L307.2,286.7 L313,284.2 L321,284.7 L325.9,286.7 L330.8,288.7 L334.7,283.8 L339.6,278.3 L343.6,279.8 L348.5,290.6 L354.4,299.5 L358.3,313.3 L362.2,335 L367.2,352.6 L373,388 L376,405 L377,429 L382,461.5 L386.4,480 L386.4,560 L259,560 Z"/>

<!-- grid -->
<g stroke="#c6c6c6" stroke-width="2.2" stroke-dasharray="4.5 3.2" fill="none">
  <line x1="80" y1="240.6" x2="509" y2="240.6"/>
  <line x1="80" y1="290.5" x2="509" y2="290.5"/>
  <line x1="80" y1="340.3" x2="509" y2="340.3"/>
  <line x1="80" y1="390.2" x2="509" y2="390.2"/>
  <line x1="80" y1="440" x2="509" y2="440"/>
  <line x1="80" y1="489.9" x2="509" y2="489.9"/>
  <line x1="80" y1="539.7" x2="509" y2="539.7"/>
</g>
<g stroke="#b8b8b8" stroke-width="2.4" stroke-dasharray="5 3.6" fill="none">
  <line x1="113.7" y1="202" x2="113.7" y2="600"/>
  <line x1="182.4" y1="202" x2="182.4" y2="600"/>
  <line x1="251.1" y1="202" x2="251.1" y2="600"/>
  <line x1="319.8" y1="202" x2="319.8" y2="600"/>
  <line x1="388.5" y1="202" x2="388.5" y2="600"/>
  <line x1="457.2" y1="202" x2="457.2" y2="600"/>
</g>

<!-- RFV box -->
<path d="M267.5,460 L267.5,553.5 L382,553.5 L382,458" fill="none" stroke="#6c6c74" stroke-width="2.6"/>

<!-- curve -->
<path fill="none" stroke="#ea4656" stroke-width="3" stroke-linejoin="round" d="M153.4,589.0 C153.8,585.5 154.8,572.4 155.7,568.3 C156.6,564.2 157.4,567.0 158.7,564.4 C160.0,561.8 161.8,555.9 163.6,552.6 C165.4,549.3 166.1,546.3 169.5,544.7 C172.9,543.1 179.3,543.0 184.2,543.0 C189.1,543.0 193.9,544.5 199.0,544.7 C204.1,544.9 210.4,545.1 214.7,544.3 C218.9,543.5 221.9,541.6 224.5,539.8 C227.1,538.0 228.4,534.4 230.4,533.3 C232.4,532.2 234.0,534.2 236.3,533.3 C238.6,532.4 241.9,530.7 244.2,528.0 C246.5,525.3 248.5,520.5 250.0,517.0 C251.5,513.5 251.7,510.6 253.0,507.0 C254.3,503.4 256.5,500.0 258.0,495.5 C259.5,491.0 261.1,484.6 262.0,480.0 C262.9,475.4 262.7,472.6 263.6,468.0 C264.5,463.4 266.4,457.3 267.4,452.7 C268.4,448.1 268.9,445.1 269.7,440.6 C270.5,436.1 271.2,430.6 272.0,425.5 C272.8,420.4 273.3,415.9 274.2,410.3 C275.1,404.7 276.4,397.7 277.3,392.0 C278.2,386.3 278.3,383.4 279.7,376.2 C281.1,369.0 283.6,356.5 285.6,348.6 C287.6,340.7 289.7,335.6 291.5,329.0 C293.3,322.4 294.8,315.2 296.4,309.3 C298.0,303.4 299.5,297.4 301.3,293.6 C303.1,289.8 305.2,288.3 307.2,286.7 C309.1,285.1 310.7,284.5 313.0,284.2 C315.3,283.9 318.9,284.3 321.0,284.7 C323.1,285.1 324.3,286.0 325.9,286.7 C327.5,287.4 329.3,289.2 330.8,288.7 C332.3,288.2 333.2,285.5 334.7,283.8 C336.2,282.1 338.1,279.0 339.6,278.3 C341.1,277.6 342.1,277.8 343.6,279.8 C345.1,281.9 346.7,287.3 348.5,290.6 C350.3,293.9 352.8,295.7 354.4,299.5 C356.0,303.3 357.0,307.4 358.3,313.3 C359.6,319.2 360.7,328.4 362.2,335.0 C363.7,341.6 365.4,343.8 367.2,352.6 C369.0,361.4 371.5,379.3 373.0,388.0 C374.5,396.7 375.3,398.2 376.0,405.0 C376.7,411.8 376.0,419.6 377.0,429.0 C378.0,438.4 380.4,453.0 382.0,461.5 C383.6,470.0 385.2,474.5 386.4,480.0 C387.6,485.5 387.8,489.1 389.0,494.5 C390.2,499.9 391.8,507.0 393.6,512.7 C395.4,518.5 397.7,524.2 400.0,529.0 C402.3,533.8 404.5,537.9 407.2,541.7 C409.9,545.5 413.3,549.4 416.3,551.7 C419.3,554.0 422.4,554.7 425.4,555.3 C428.4,555.9 431.5,555.6 434.5,555.3 C437.5,555.0 440.8,553.5 443.5,553.5 C446.2,553.5 448.7,553.9 450.8,555.3 C452.9,556.7 453.1,560.5 456.3,561.7 C459.5,562.9 467.3,558.1 469.9,562.6 C472.5,567.1 471.4,584.6 471.7,589.0" stroke-linecap="round"/>

<!-- axes -->
<g stroke="#606060" fill="none">
  <line x1="86.7" y1="202" x2="86.7" y2="591" stroke-width="3.5"/>
  <line x1="85" y1="589.8" x2="510" y2="589.8" stroke-width="3"/>
</g>
<!-- y ticks -->
<g stroke="#b4b4b4" stroke-width="1.4">
  <path stroke="#a0a0a0" d="M77,240.6H85M77,290.5H85M77,340.3H85M77,390.2H85M77,440H85M77,489.9H85M77,539.7H85M77,589.6H85"/>
  <path d="M81,215.7H85M81,228.1H85M81,253H85M81,265.5H85M81,278H85M81,303H85M81,315.4H85M81,327.9H85M81,352.8H85M81,365.2H85M81,377.7H85M81,402.6H85M81,415.1H85M81,427.5H85M81,452.5H85M81,464.9H85M81,477.4H85M81,502.3H85M81,514.8H85M81,527.2H85M81,552.2H85M81,564.6H85M81,577.1H85"/>
</g>
<!-- x ticks -->
<g stroke="#a8a8a8" stroke-width="1.6">
  <path stroke="#909090" stroke-width="2" d="M113.7,591V600M182.4,591V600M251.1,591V600M319.8,591V600M388.5,591V600M457.2,591V600"/>
  <path d="M96.5,591V597M130.9,591V597M148.1,591V597M165.2,591V597M199.6,591V597M216.8,591V597M233.9,591V597M268.3,591V597M285.5,591V597M302.6,591V597M337,591V597M354.2,591V597M371.3,591V597M405.7,591V597M422.9,591V597M440,591V597M474.4,591V597M491.6,591V597"/>
</g>

<!-- tick labels -->
<g fill="#474747" stroke="#474747" stroke-width="0.45" font-size="20.5" text-anchor="end">
  <text x="68.3" y="244.3" textLength="20.5" lengthAdjust="spacingAndGlyphs">35</text>
  <text x="68.5" y="295.5" textLength="20.5" lengthAdjust="spacingAndGlyphs">30</text>
  <text x="68.3" y="345" textLength="20.5" lengthAdjust="spacingAndGlyphs">25</text>
  <text x="68.3" y="395" textLength="20.5" lengthAdjust="spacingAndGlyphs">20</text>
  <text x="68.3" y="445" textLength="19.5" lengthAdjust="spacingAndGlyphs">15</text>
  <text x="68.3" y="495" textLength="19.5" lengthAdjust="spacingAndGlyphs">10</text>
  <text x="68.5" y="544.5">5</text>
  <text x="71" y="594.5">0</text>
</g>
<g fill="#474747" stroke="#474747" stroke-width="0.45" font-size="20.5" text-anchor="middle">
  <text x="114" y="619" textLength="30" lengthAdjust="spacingAndGlyphs">−30</text>
  <text x="183.2" y="619" textLength="30" lengthAdjust="spacingAndGlyphs">−20</text>
  <text x="252.2" y="619" textLength="29" lengthAdjust="spacingAndGlyphs">−10</text>
  <text x="320.5" y="619">0</text>
  <text x="389" y="619" textLength="19.5" lengthAdjust="spacingAndGlyphs">10</text>
  <text x="455.7" y="619" textLength="20.5" lengthAdjust="spacingAndGlyphs">20</text>
</g>

<!-- MBR box -->
<rect x="2" y="321" width="51.5" height="89" fill="#e6e6e6"/>
<text transform="translate(33,400) rotate(-90)" font-size="24" font-weight="bold" fill="#000" textLength="53" lengthAdjust="spacingAndGlyphs">MBR</text>

<!-- threshold dotted line -->
<line x1="91" y1="549" x2="485" y2="549" stroke="#4a6aa8" stroke-width="3.2" stroke-dasharray="3.2 5.65"/>

<!-- blue thin dashed verticals -->
<g stroke="#4466a0" stroke-width="1.1" stroke-dasharray="2.6 1.6" fill="none">
  <line x1="147.5" y1="3" x2="147.5" y2="596"/>
  <line x1="274.2" y1="3" x2="264.7" y2="628"/>
  <line x1="379.4" y1="3" x2="379.1" y2="622"/>
  <line x1="475.3" y1="3" x2="475.3" y2="596"/>
  <line x1="271.4" y1="453" x2="447" y2="453"/>
</g>

<!-- arrows top -->
<g stroke="#6a86b8" stroke-width="1.5" fill="none">
  <line x1="148" y1="197.7" x2="475" y2="197.7"/>
  <path d="M154.5,192.9 L148,197.7 L154.5,202.5"/>
  <path d="M265.5,192.9 L272,197.7 L265.5,202.5"/>
  <path d="M278.5,192.9 L272,197.7 L278.5,202.5"/>
  <path d="M372.5,192.9 L379,197.7 L372.5,202.5"/>
  <path d="M385.5,192.9 L379,197.7 L385.5,202.5"/>
  <path d="M468.5,192.9 L475,197.7 L468.5,202.5"/>
  <line x1="424.3" y1="454" x2="424.3" y2="548" stroke-width="1.2" stroke="#6f84b0"/>
  <path d="M419.2,463 L424.3,453.5 L429.4,463" stroke-width="1.2"/>
  <path d="M419.2,539 L424.3,548.5 L429.4,539" stroke-width="1.2"/>
</g>

<!-- labels -->
<g font-weight="bold" fill="#000">
  <text x="162" y="172.5" font-size="25.6" textLength="78" lengthAdjust="spacingAndGlyphs">Tissue</text>
  <text x="277.5" y="172.5" font-size="25.6" textLength="80" lengthAdjust="spacingAndGlyphs">Vessel</text>
  <text x="381" y="172.5" font-size="25.6" textLength="78.5" lengthAdjust="spacingAndGlyphs">Tissue</text>
  <text x="293.5" y="455.3" font-size="24.5" textLength="48" lengthAdjust="spacingAndGlyphs">RFV</text>
  <text x="162.8" y="512" font-size="26.5" textLength="41.5" lengthAdjust="spacingAndGlyphs">f(x)</text>
  <text x="256.6" y="643.3" font-size="27">n</text>
  <text x="366" y="643.3" font-size="27">m</text>
  <text x="287.5" y="655" font-size="22" textLength="62" lengthAdjust="spacingAndGlyphs">Pixels</text>
  <text transform="translate(451.5,538.5) rotate(-90)" font-size="23.5" textLength="53" lengthAdjust="spacingAndGlyphs">MBR</text>
  <text transform="translate(457.5,479) rotate(-90)" font-size="16" textLength="73" lengthAdjust="spacingAndGlyphs">threshold</text>
</g>

<!-- ===== panel b ===== -->
<text transform="translate(615.2,112.3) scale(1.06,1)" font-size="48.5" fill="#000">b</text>
<g clip-path="url(#bclip)">
  <rect x="610" y="140.5" width="410" height="424" fill="#2a2a2a"/>
  <!-- background haze -->
  <g filter="url(#haze)">
    <ellipse cx="640" cy="170" rx="40" ry="40" fill="#343434"/>
    <ellipse cx="700" cy="200" rx="60" ry="30" fill="#333"/>
    <ellipse cx="850" cy="175" rx="30" ry="36" fill="#444"/>
    <ellipse cx="885" cy="200" rx="18" ry="26" fill="#4e4e4e"/>
    <ellipse cx="905" cy="185" rx="18" ry="40" fill="#474747"/>
    <ellipse cx="945" cy="185" rx="18" ry="35" fill="#3c3c3c"/>
    <ellipse cx="1000" cy="215" rx="25" ry="18" fill="#565656"/>
    <ellipse cx="640" cy="360" rx="35" ry="70" fill="#1a1a1a"/>
    <ellipse cx="650" cy="520" rx="40" ry="45" fill="#262626"/>
    <ellipse cx="640" cy="400" rx="30" ry="25" fill="#323232"/>
            <ellipse cx="880" cy="545" rx="40" ry="20" fill="#383838"/>
    <ellipse cx="790" cy="545" rx="40" ry="20" fill="#3a3a3a"/>
  </g>
  <!-- outside vessel glows -->
  <g filter="url(#glow)" fill="none" stroke-linecap="round" stroke-linejoin="round">
    <path d="M611,140 L623.6,157.7 L637.2,176.8 L650.9,191.8 L664.5,204 L680,216.3 L699,229 L716,241.7 L733,252.3 L750,260.7" stroke="#5a5a5a" stroke-width="20"/>
    <path d="M712,136 L750,170 L772,180 L790,190" stroke="#707070" stroke-width="34"/>
    <path d="M900,138 L880,215" stroke="#5a5a5a" stroke-width="26"/>
    <path d="M928,136 L916,230" stroke="#5a5a5a" stroke-width="22"/>
    <path d="M1025,150 L944,258" stroke="#6a6a6a" stroke-width="30"/>
    <path d="M612,276 L663,294 L690,305" stroke="#505050" stroke-width="20"/>
    <path d="M965,320 L1020,345" stroke="#444" stroke-width="22"/>
    <path d="M935,490 L968,568" stroke="#6a6a6a" stroke-width="48"/>
    <path d="M612,412 L655,428 L612,472" stroke="#3e3e3e" stroke-width="12"/>
    <path d="M775,512 L752,565" stroke="#5a5a5a" stroke-width="36"/>
    <path d="M839,515 L829,568" stroke="#5a5a5a" stroke-width="36"/>
    <path d="M975,420 L1020,460" stroke="#3a3a3a" stroke-width="20"/>
  </g>
  <!-- outside vessel cores -->
  <g filter="url(#vb)" fill="none" stroke-linecap="round" stroke-linejoin="round">
    <path d="M611,140 L623.6,157.7 L637.2,176.8 L650.9,191.8 L664.5,204 L680,216.3 L699,229 L716,241.7 L733,252.3 L750,260.7" stroke="#b8b8b8" stroke-width="7"/>
    <path d="M712,136 L750,170 L772,180 L792,192" stroke="#fafafa" stroke-width="14"/>
    <path d="M899,138 L879,215" stroke="#d8d8d8" stroke-width="7"/>
    <path d="M928,136 L917,240" stroke="#f2f2f2" stroke-width="11"/>
    <path d="M1026,150 L941,262" stroke="#fafafa" stroke-width="16"/>
    <path d="M612,276 L663,294 L690,306" stroke="#eeeeee" stroke-width="9"/>
    <path d="M968,322 L1020,346" stroke="#666" stroke-width="6"/>
    <path d="M970,408 L1022,401" stroke="#5a5a5a" stroke-width="4"/>
    <path d="M935,488 L965,568" stroke="#909090" stroke-width="28"/>
    <path d="M942,485 L960,530 L972,568" stroke="#e4e4e4" stroke-width="15"/>
    <path d="M612,412 L655,428 L612,472" stroke="#555" stroke-width="3"/>
    <path d="M655,428 L680,424" stroke="#ddd" stroke-width="6"/>
    <path d="M780,510 L760,565" stroke="#fafafa" stroke-width="20"/>
    <path d="M839,515 L829,568" stroke="#fafafa" stroke-width="20"/>
    <path d="M797,140 L814,140 L815,160 L818,173 L826,190 L840,203 L858,212 L790,218 L772,203 L780,185 L795,170 Z" fill="#fafafa" stroke="none"/>
  </g>
  <!-- disc -->
  <g clip-path="url(#discclip)">
    <rect x="660" y="200" width="330" height="340" fill="#fcfcfc"/>
    <g filter="url(#rb)">
      <!-- R1 upper-left -->
      <path d="M660,190 L785,190 L784,223 L785,250 L790,275 L799,300 L785,287 L767,273 L740,255 L716,242 L700,232 L660,215 Z" fill="#6e6e6e"/>
      <!-- R2 stripe -->
      <path d="M789,205 L808,205 L808.5,240 L809.5,275 L808,292 L803,293 L797,275 L792,245 L790,220 Z" fill="#828282"/>
      <!-- R3 wedge b -->
      <path d="M827,230 L834,234 L845,259.5 L852.6,286.7 L856,314 L849,321 L841.7,321 L834.4,305 L829,277.6 L825.3,241 Z" fill="#8a8a8a"/>
      <!-- R4 -->
      <path d="M876,200 L905,200 L908,232 L904,252 L896,270 L885,290 L881,288 L878,268 L877,250 L876,228 Z" fill="#6c6c6c"/>
      <path d="M846,205 L866,205 L865,225 L856,231 L847,226 Z" fill="#666"/>
      <!-- R5 -->
      <path d="M930,272 L945,262 L965,258 L985,290 L960,300 L945,302 L935,296 Z" fill="#5a5a5a"/>
      <!-- R6 right -->
      <path d="M897,377 L900,355 L906,338 L912,328 L927,311 L943,309 L958,318 L970,326 L990,330 L990,402 L970,403 L902,404 L897,395 Z" fill="#5c5c5c"/>
      <!-- R7 lower right -->
      <path d="M905,410 L990,408 L990,470 L945,480 L932,462 L918,440 L907,420 Z" fill="#626262"/>
      <!-- R8 wedge M -->
      <path d="M895,432 L902,440 L912,458 L922,475 L932,492 L912,510 L905,480 L898,458 Z" fill="#727272"/>
      <!-- R9 between L and M1 -->
      <path d="M870,456 L877,460 L888,472 L896,488 L904,505 L908,530 L855,540 L855,505 L857,482 L863,466 Z" fill="#5e5e5e"/>
      <!-- R10 between K and L -->
      <path d="M838,419 L840,428 L833,450 L828,475 L826,500 L826,521 L790,535 L795,505 L805,478 L818,448 L830,428 Z" fill="#6a6a6a"/>
      <!-- R11 lower-left -->
      <path d="M660,424 L700,424 L740,423 L770,426 L794,430 L786,453 L776,480 L768,505 L760,540 L660,540 Z" fill="#5a5a5a"/>
      <!-- R12 big left -->
      <path d="M660,312 L685,319 L710,326 L745,332 L790,331 L807,331 L819,345 L825.5,364 L829,381 L820,400 L808,414 L790,417 L755,416 L722,415 L690,416 L660,420 Z" fill="#585858"/>
      <ellipse cx="878" cy="412" rx="4" ry="7" fill="#a4a4a4" transform="rotate(-20 878 412)"/>
      <!-- R13 left upper -->
      <path d="M660,218 L700,238 L740,259 L767,278 L785,292 L803,312 L790,317 L745,320 L712,313 L685,305 L660,298 Z" fill="#595959"/>
      <ellipse cx="712" cy="285" rx="22" ry="16" fill="#4c4c4c"/>
    </g>
    <g filter="url(#haze2)">
      <ellipse cx="765" cy="375" rx="38" ry="22" fill="#4a4a4a" opacity="0.6"/>
    </g>
    <!-- thin vessels inside -->
    <g filter="url(#vb)" fill="none" stroke-linecap="round" stroke-linejoin="round">
      <path d="M690,232 L716,244 L740,259.5 L767,277.6 L785.4,292 L800,306.7 L812,320" stroke="#f0f0f0" stroke-width="8"/>
      <path d="M787,212 L787,240 L789,262 L794.5,280 L802,297" stroke="#e8e8e8" stroke-width="7"/>
      <path d="M665,303 L685,311 L716,319 L745,326 L780,326 L812,323" stroke="#f2f2f2" stroke-width="11"/>
      <path d="M665,427 L682.7,424.4 L706.9,422 L750,421 L780,424 L800,428" stroke="#ececec" stroke-width="7"/>
      <path d="M898,408.5 L940,409 L975,408" stroke="#dcdcdc" stroke-width="5"/>
      <path d="M940,309 L972,325" stroke="#e0e0e0" stroke-width="10"/>
    </g>
  </g>
  <!-- dashed circle -->
  <ellipse cx="824.6" cy="368.7" rx="153" ry="157" fill="none" stroke="#000" stroke-width="5.4"/>
  <ellipse cx="824.6" cy="368.7" rx="153" ry="157" fill="none" stroke="#fff" stroke-width="2.7" stroke-dasharray="7.2 3.6"/>
  <!-- markers -->
  <g stroke-width="5.5" stroke-linecap="butt">
    <g stroke="#1a0000"><path d="M666.3,205.3L693.5,226.9M739.7,154.3L773.8,178.6M898,157L884,190M986,340.7L1018.7,354.4M981.7,425.6L1010.8,453.4M938,478.9L952.7,510.4"/></g>
    <g stroke="#00001a"><path d="M622,272.3L655.5,289M801.3,142.2L807.7,175M923.4,175L916.4,211M996,178.6L965.8,213M1016.6,232L976.4,239.6M613.6,412.3L651.2,428M647.5,445L616,466.8M771.6,523.7L749.8,552.7M822.5,529.7L809.2,562.4M851.6,531L855.2,560M914,500.7L930.9,522.5"/></g>
  </g>
  <g stroke-width="3.5" stroke-linecap="butt">
    <g stroke="#e00000"><path d="M666.3,205.3L693.5,226.9M739.7,154.3L773.8,178.6M898,157L884,190M986,340.7L1018.7,354.4M981.7,425.6L1010.8,453.4M938,478.9L952.7,510.4"/></g>
    <g stroke="#0000d0"><path d="M622,272.3L655.5,289M801.3,142.2L807.7,175M923.4,175L916.4,211M996,178.6L965.8,213M1016.6,232L976.4,239.6M613.6,412.3L651.2,428M647.5,445L616,466.8M771.6,523.7L749.8,552.7M822.5,529.7L809.2,562.4M851.6,531L855.2,560M914,500.7L930.9,522.5"/></g>
  </g>
</g>

</svg>
</body></html>
